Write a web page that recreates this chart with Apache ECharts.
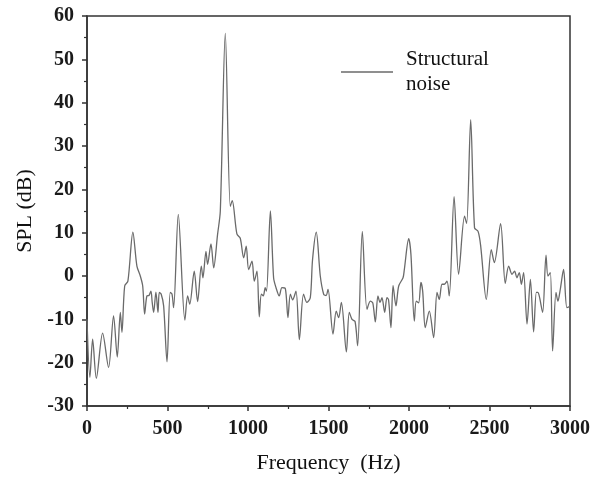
<!DOCTYPE html>
<html lang="en">
<head>
    <meta charset="UTF-8">
    <title>SPL</title>
    <script src="https://cdn.jsdelivr.net/npm/echarts@6/dist/echarts.min.js"></script>
    <style>
        html, body { margin: 0; padding: 0; background: #ffffff; }
        #main { width: 597px; height: 479px; }
    </style>
</head>
<body>
<div id="main"></div>

<script type="text/javascript">
    // frequency (Hz) and SPL (dB)
    var freq = [0, 18, 35, 58, 97, 134, 165, 188, 207, 217, 234, 254, 285, 310, 331, 346, 358, 372, 385, 397,
        405, 414, 428, 441, 449, 461, 476, 497, 517, 528, 538, 567, 608, 625, 638, 666, 687, 710, 720, 739,
        749, 770, 787, 811, 828, 859, 890, 902, 931, 952, 973, 989, 1004, 1025, 1039, 1056, 1070, 1083, 1095, 1107,
        1115, 1139, 1159, 1174, 1194, 1211, 1232, 1248, 1263, 1277, 1298, 1319, 1345, 1366, 1387, 1401, 1424, 1449, 1470, 1485,
        1497, 1528, 1548, 1563, 1580, 1611, 1629, 1646, 1665, 1681, 1710, 1739, 1760, 1775, 1791, 1807, 1820, 1832, 1849, 1863,
        1873, 1888, 1901, 1919, 1936, 1963, 1971, 1998, 2012, 2033, 2045, 2060, 2074, 2085, 2101, 2126, 2153, 2174, 2188, 2205,
        2220, 2236, 2250, 2280, 2308, 2345, 2358, 2383, 2407, 2429, 2445, 2480, 2511, 2530, 2569, 2598, 2619, 2640, 2656, 2670,
        2685, 2698, 2712, 2733, 2754, 2774, 2791, 2800, 2809, 2830, 2851, 2863, 2878, 2892, 2913, 2925, 2940, 2960, 2981, 3000];
    var spl = [-10, -23.4, -14.6, -23.6, -13.2, -21.1, -9.2, -18.7, -8.4, -13.0, -2.3, -1.2, 10.1, 2.3, 0, -2.3, -8.8, -4.6, -4.5, -3.5,
        -6.1, -8.4, -3.7, -8.4, -3.8, -4.2, -6.9, -19.8, -3.8, -4.2, -7.3, 14.2, -10.2, -4.6, -6.5, 1.1, -5.9, 2.3, -0.4, 5.7,
        2.7, 7.4, 1.9, 9.6, 15.0, 56.0, 16.1, 17.4, 9.7, 8.7, 4.2, 6.9, 1.5, 3.4, -1.2, 1.1, -9.4, -4.2, -4.6, -2.7,
        -3.5, 15.0, -0.4, -2.7, -4.6, -2.7, -2.9, -9.6, -4.2, -5.5, -3.5, -14.7, -4.2, -6.1, -5.0, 3.8, 10.1, 0, -4.2, -4.5,
        -3.1, -13.4, -8.1, -9.6, -6.1, -17.5, -8.4, -10.0, -10.5, -16.1, 10.3, -7.7, -5.8, -6.2, -10.6, -4.6, -6.1, -5.0, -8.4, -5.0,
        -5.5, -11.9, -2.2, -6.9, -2.3, -0.4, 1.5, 8.6, 5.0, -10.4, -5.8, -6.2, -1.5, -3.5, -11.9, -8.1, -14.2, -3.8, -5.4, -1.9,
        -1.9, -1.2, -4.6, 18.3, 0.4, 13.8, 12.1, 36.1, 11.1, 10.3, 7.0, -5.4, 6.1, 3.1, 12.1, -1.7, 2.3, 0.4, 1.1, -0.4,
        0.8, -1.9, 0.8, -11.1, -0.8, -12.9, -3.8, -3.8, -4.6, -8.4, 4.8, 0, 0.8, -17.3, -3.8, -5.8, -3.0, 1.5, -7.3, -7.0];
    var seriesName = 'Structural noise';

    var points = [];
    for (var i = 0; i < freq.length; i++) {
        points.push([freq[i], spl[i]]);
    }

    var serif = '"Liberation Serif", "Times New Roman", serif';
    var axisColor = '#333333';
    var lineColor = '#6a6a6a';

    var myChart = echarts.init(document.getElementById('main'));

    var option = {
        backgroundColor: '#ffffff',
        animation: false,
        grid: {
            left: 87,
            right: 27,
            top: 16,
            bottom: 72,
            show: true,
            borderColor: axisColor,
            borderWidth: 1.5
        },
        legend: {
            left: 341,
            top: 47,
            padding: 0,
            icon: 'rect',
            itemWidth: 52,
            itemHeight: 1.3,
            itemStyle: { color: lineColor },
            formatter: function () {
                return 'Structural\nnoise';
            },
            textStyle: {
                fontFamily: serif,
                fontSize: 21,
                lineHeight: 25,
                color: '#111111',
                padding: [0, 0, 0, 8]
            },
            data: [seriesName]
        },
        xAxis: {
            type: 'value',
            min: 0,
            max: 3000,
            interval: 500,
            name: 'Frequency  (Hz)',
            nameLocation: 'middle',
            nameGap: 46,
            nameTextStyle: {
                fontFamily: serif,
                fontSize: 22,
                color: '#111111'
            },
            axisLine: { show: true, onZero: false, lineStyle: { color: axisColor, width: 1.5 } },
            axisTick: { show: true, inside: false, length: 5, lineStyle: { color: axisColor, width: 1.5 } },
            minorTick: { show: true, splitNumber: 2, length: 3, lineStyle: { color: axisColor, width: 1.2 } },
            splitLine: { show: false },
            axisLabel: {
                margin: 13,
                fontFamily: serif,
                fontWeight: 'bold',
                fontSize: 20,
                color: '#1a1a1a',
                formatter: function (v) { return String(v); }
            }
        },
        yAxis: {
            type: 'value',
            min: -30,
            max: 60,
            interval: 10,
            name: 'SPL (dB)',
            nameLocation: 'middle',
            nameGap: 44,
            nameTextStyle: {
                fontFamily: serif,
                fontSize: 22,
                color: '#111111'
            },
            axisLine: { show: true, onZero: false, lineStyle: { color: axisColor, width: 1.5 } },
            axisTick: { show: true, inside: false, length: 5, lineStyle: { color: axisColor, width: 1.5 } },
            minorTick: { show: true, splitNumber: 2, length: 3, lineStyle: { color: axisColor, width: 1.2 } },
            splitLine: { show: false },
            axisLabel: {
                margin: 13,
                fontFamily: serif,
                fontWeight: 'bold',
                fontSize: 20,
                color: '#1a1a1a',
                formatter: function (v) { return String(v); }
            }
        },
        series: [{
            name: seriesName,
            type: 'line',
            data: points,
            symbol: 'none',
            smooth: 0.3,
            lineStyle: { color: lineColor, width: 1.3 },
            itemStyle: { color: lineColor }
        }]
    };

    myChart.setOption(option);
</script>
</body>
</html>
